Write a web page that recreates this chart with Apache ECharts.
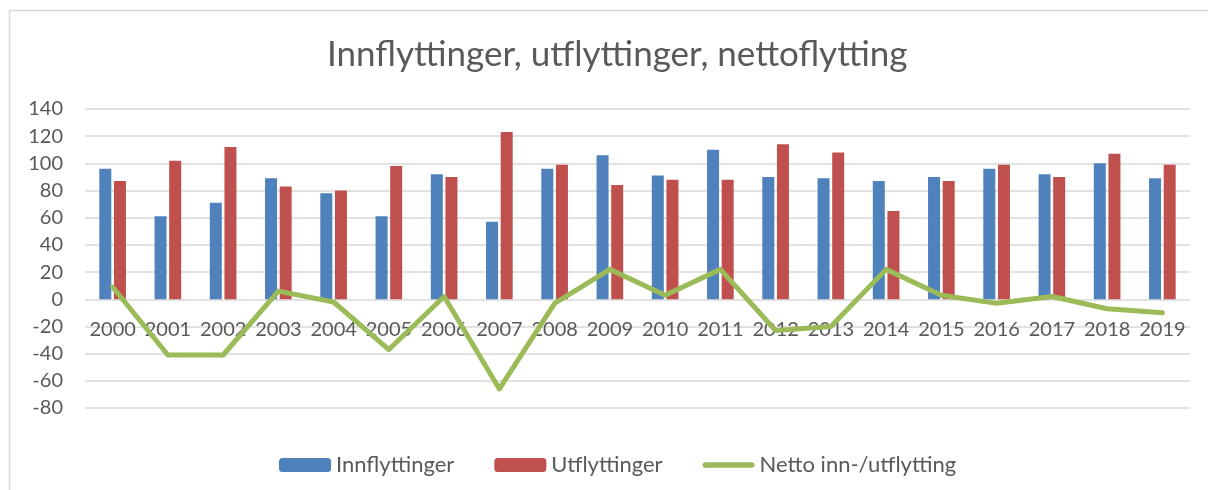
<!DOCTYPE html>
<html>
<head>
<meta charset="utf-8">
<script src="https://cdn.jsdelivr.net/npm/echarts@6/dist/echarts.min.js"></script>
<style>
  html, body { margin: 0; padding: 0; background: #fff; }
  #chart { width: 1208px; height: 490px; }
</style>
</head>
<body>
<div id="chart"></div>
<script>
// år
const years = ['2000', '2001', '2002', '2003', '2004', '2005', '2006', '2007', '2008', '2009',
  '2010', '2011', '2012', '2013', '2014', '2015', '2016', '2017', '2018', '2019']

// innflyttinger og utflyttinger
const innflyttinger = [96, 61, 71, 89, 78, 61, 92, 57, 96, 106, 91, 110, 90, 89, 87, 90, 96, 92, 100, 89]
const utflyttinger = [87, 102, 112, 83, 80, 98, 90, 123, 99, 84, 88, 88, 114, 108, 65, 87, 99, 90, 107, 99]

// netto inn-/utflytting (lest av figuren)
const netto = [9, -41, -41, 6, -2, -37, 2, -66, -3, 22, 3, 22, -23, -20, 22, 3, -3, 2, -7, -10]

const textColor = '#595959'
const gridColor = '#d9d9d9'
const fontFamily = 'Lato, "Open Sans", sans-serif'

// y-akse
const yMin = -80
const yMax = 140
const yStep = 20

const chart = echarts.init(document.getElementById('chart'))

const option = {
  animation: false,
  textStyle: { fontFamily: fontFamily },
  title: {
    text: 'Innflyttinger, utflyttinger, nettoflytting',
    left: 322,
    top: 32,
    textStyle: {
      color: textColor,
      fontSize: 35,
      fontWeight: 'normal',
      fontFamily: fontFamily
    }
  },
  // ramme rundt diagrammet
  graphic: [
    {
      type: 'rect',
      shape: { x: 9.5, y: 10.5, width: 1300, height: 600 },
      style: { fill: 'none', stroke: '#d9d9d9', lineWidth: 1.5 },
      silent: true
    }
  ],
  legend: {
    top: 449,
    left: 274,
    itemWidth: 52,
    itemHeight: 14,
    itemGap: 40,
    textStyle: { color: textColor, fontSize: 22, fontFamily: fontFamily },
    data: [
      'Innflyttinger',
      'Utflyttinger',
      {
        name: 'Netto inn-/utflytting',
        icon: 'path://M2.5,0H45.5A2.5,2.5 0 0 1 45.5,5H2.5A2.5,2.5 0 0 1 2.5,0Z'
      }
    ]
  },
  grid: {
    left: 85,
    right: 18,
    top: 109,
    bottom: 82
  },
  xAxis: {
    type: 'category',
    data: years,
    // aksen ligger på null-linjen
    offset: -109,
    axisLine: { show: false, onZero: false },
    axisTick: { show: false },
    axisLabel: { color: textColor, fontSize: 20, margin: 21, interval: 0 }
  },
  yAxis: {
    type: 'value',
    min: yMin,
    max: yMax,
    interval: yStep,
    axisLine: { show: false },
    axisTick: { show: false },
    axisLabel: { color: textColor, fontSize: 20, margin: 22 },
    splitLine: { lineStyle: { color: gridColor, width: 1.5 } }
  },
  series: [
    {
      name: 'Innflyttinger',
      type: 'bar',
      data: innflyttinger,
      barWidth: 12,
      barGap: '22%',
      itemStyle: { color: '#4f81bd' }
    },
    {
      name: 'Utflyttinger',
      type: 'bar',
      data: utflyttinger,
      barWidth: 12,
      itemStyle: { color: '#c0504d' }
    },
    {
      name: 'Netto inn-/utflytting',
      type: 'line',
      data: netto,
      symbol: 'none',
      z: 5,
      lineStyle: { color: '#9bbb59', width: 5, cap: 'round', join: 'round' },
      itemStyle: { color: '#9bbb59' }
    }
  ]
}

chart.setOption(option)
</script>
</body>
</html>
